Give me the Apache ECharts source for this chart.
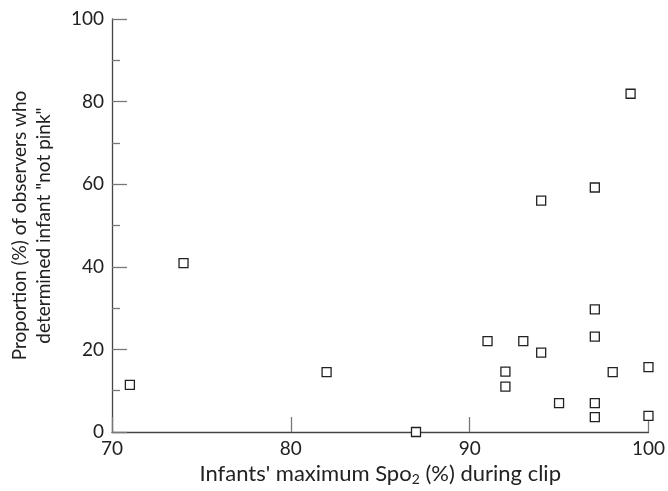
<!DOCTYPE html>
<html>
<head>
<meta charset="utf-8">
<script src="https://cdn.jsdelivr.net/npm/echarts@6/dist/echarts.min.js"></script>
<style>html,body{margin:0;padding:0;background:#fff}#c{width:668px;height:491px}</style>
</head>
<body>
<div id="c"></div>
<script>
// Infants' maximum SpO2 (%) during clip
const spo2 = [71, 74, 82, 87, 91, 92, 92, 93, 94, 94, 95, 97, 97, 97, 97, 97, 98, 99, 100, 100];
// Proportion (%) of observers who determined infant "not pink"
const notPink = [11.4, 40.9, 14.5, 0, 22.0, 14.6, 11.0, 22.0, 56.0, 19.2, 7.0, 59.2, 29.7, 23.1, 7.0, 3.6, 14.5, 81.9, 15.7, 3.9];
const xTicks = [70, 80, 90, 100];
const yTicks = [0, 20, 40, 60, 80, 100];

const FONT = 'Lato';
const points = spo2.map((x, i) => [x, notPink[i]]);
const chart = echarts.init(document.getElementById('c'), null, {renderer: 'canvas'});
chart.setOption({
  animation: false,
  backgroundColor: '#fff',
  textStyle: {fontFamily: FONT},
  grid: {left: 111, right: 19, top: 19, bottom: 57},
  xAxis: {
    type: 'value', min: xTicks[0], max: xTicks[xTicks.length - 1], interval: 10,
    name: '{n|Infants\' maximum Spo}{s|2}{n| (%) during clip}',
    nameLocation: 'middle', nameGap: 30,
    nameTextStyle: {
      rich: {
        n: {fontSize: 22, color: '#222', fontFamily: FONT},
        s: {fontSize: 14, color: '#222', fontFamily: FONT, padding: [10, 0, 0, 0]}
      },
      fontSize: 22, color: '#222', fontFamily: FONT
    },
    axisLine: {show: true, lineStyle: {color: '#444', width: 1.3}},
    axisTick: {show: true, inside: true, length: 15, lineStyle: {color: '#777', width: 1.3}},
    axisLabel: {fontSize: 19, color: '#222', margin: 7, fontFamily: FONT},
    splitLine: {show: false}
  },
  yAxis: {
    type: 'value', min: yTicks[0], max: yTicks[yTicks.length - 1], interval: 20,
    name: 'Proportion (%) of observers who\ndetermined infant "not pink"',
    nameLocation: 'middle', nameGap: 56, nameRotate: 90,
    nameTextStyle: {fontSize: 19, color: '#222', lineHeight: 24, align: 'center', fontFamily: FONT},
    axisLine: {show: true, lineStyle: {color: '#444', width: 1.3}},
    axisTick: {show: true, inside: true, length: 15, lineStyle: {color: '#777', width: 1.3}},
    minorTick: {show: true, splitNumber: 2, length: 8, lineStyle: {color: '#777', width: 1.3}},
    axisLabel: {fontSize: 19, color: '#222', margin: 8, fontFamily: FONT},
    splitLine: {show: false},
    minorSplitLine: {show: false}
  },
  series: [{
    type: 'scatter',
    data: points,
    symbol: 'rect',
    symbolSize: 9,
    clip: false,
    itemStyle: {color: '#fff', borderColor: '#222', borderWidth: 1.3, opacity: 1}
  }]
});
</script>
</body>
</html>
